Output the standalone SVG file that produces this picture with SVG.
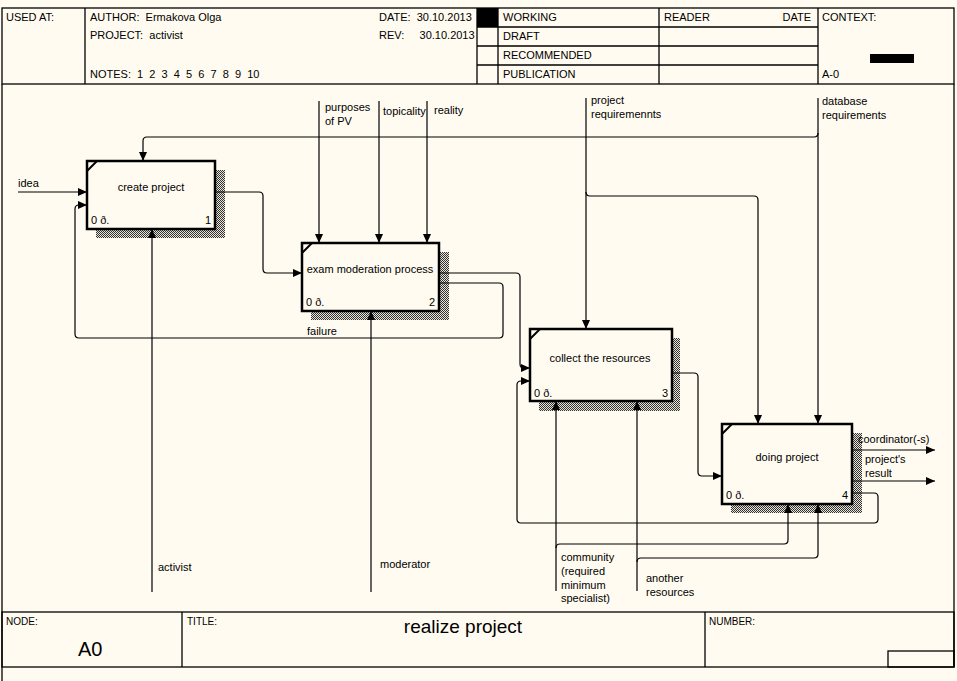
<svg xmlns="http://www.w3.org/2000/svg" width="957" height="681" viewBox="0 0 957 681">
  <defs>
    <style>
      text { font-family: "Liberation Sans", Arial, sans-serif; font-size: 11px; fill: #000; white-space: pre; }
      .frame { fill: none; stroke: #000; stroke-width: 1.3; }
      .box { fill: #fffbf0; stroke: #000; stroke-width: 2.5; }
      .shadow { fill: url(#hatch); }
      .wire { fill: none; stroke: #000; stroke-width: 1.2; }
      .arr { marker-end: url(#head); }
      .mid { text-anchor: middle; }
      .end { text-anchor: end; }
      .small { font-size: 10px; }
    </style>
    <pattern id="hatch" width="2" height="2" patternUnits="userSpaceOnUse">
      <rect width="2" height="2" fill="#e8e4da"/>
      <rect x="0" y="0" width="1" height="1" fill="#333"/>
      <rect x="1" y="1" width="1" height="1" fill="#333"/>
    </pattern>
    <marker id="head" markerWidth="10" markerHeight="8" refX="9" refY="4" orient="auto" markerUnits="userSpaceOnUse">
      <path d="M0,0 L9,4 L0,8 Z" fill="#000"/>
    </marker>
  </defs>

  <rect width="957" height="681" fill="#fffbf0"/>

  <!-- header block -->
  <g id="header">
    <rect class="frame" x="2" y="8" width="952" height="76"/>
    <line class="frame" x1="85" y1="8" x2="85" y2="84"/>
    <line class="frame" x1="477" y1="8" x2="477" y2="84"/>
    <line class="frame" x1="498" y1="8" x2="498" y2="84"/>
    <line class="frame" x1="659" y1="8" x2="659" y2="84"/>
    <line class="frame" x1="818" y1="8" x2="818" y2="84"/>
    <line class="frame" x1="477" y1="27" x2="818" y2="27"/>
    <line class="frame" x1="477" y1="46" x2="818" y2="46"/>
    <line class="frame" x1="477" y1="65" x2="818" y2="65"/>
    <rect x="477" y="8" width="21" height="19" fill="#000"/>
    <rect x="870" y="54" width="44" height="9" fill="#000"/>
    <text x="6" y="21">USED AT:</text>
    <text x="90" y="21">AUTHOR:  Ermakova Olga</text>
    <text x="90" y="39">PROJECT:  activist</text>
    <text x="90" y="78">NOTES:  1  2  3  4  5  6  7  8  9  10</text>
    <text x="379" y="21">DATE:  30.10.2013</text>
    <text x="379" y="39">REV:     30.10.2013</text>
    <text x="503" y="21">WORKING</text>
    <text x="503" y="40">DRAFT</text>
    <text x="503" y="59">RECOMMENDED</text>
    <text x="503" y="78">PUBLICATION</text>
    <text x="664" y="21">READER</text>
    <text class="end" x="811" y="21">DATE</text>
    <text x="822" y="21">CONTEXT:</text>
    <text x="822" y="78">A-0</text>
  </g>

  <!-- drawing area frame -->
  <line class="frame" x1="2" y1="84" x2="2" y2="681"/>
  <line class="frame" x1="954" y1="84" x2="954" y2="667"/>

  <!-- footer block -->
  <g id="footer">
    <rect class="frame" x="2" y="612" width="952" height="55"/>
    <line class="frame" x1="182" y1="612" x2="182" y2="667"/>
    <line class="frame" x1="705" y1="612" x2="705" y2="667"/>
    <rect class="frame" x="888" y="651" width="66" height="16"/>
    <text class="small" x="6" y="625">NODE:</text>
    <text x="78" y="656" style="font-size:20px">A0</text>
    <text class="small" x="187" y="625">TITLE:</text>
    <text class="mid" x="463" y="633" style="font-size:19px">realize project</text>
    <text class="small" x="709" y="625">NUMBER:</text>
  </g>

  <!-- activity boxes (drawn first so connector arrowheads sit on top of the shadows) -->
  <g id="node-1">
    <rect class="shadow" x="96" y="170" width="129" height="68"/>
    <rect class="box" x="87" y="161" width="128" height="68"/>
    <line x1="87" y1="171" x2="97" y2="161" stroke="#000" stroke-width="2"/>
    <text class="mid" x="151" y="191">create project</text>
    <text x="91" y="224">0 ð.</text>
    <text class="end" x="211" y="224">1</text>
  </g>

  <g id="node-2">
    <rect class="shadow" x="311" y="252" width="138" height="68"/>
    <rect class="box" x="302" y="243" width="137" height="68"/>
    <line x1="302" y1="253" x2="312" y2="243" stroke="#000" stroke-width="2"/>
    <text class="mid" x="370" y="273">exam moderation process</text>
    <text x="306" y="306">0 ð.</text>
    <text class="end" x="435" y="306">2</text>
  </g>

  <g id="node-3">
    <rect class="shadow" x="539" y="338" width="141" height="73"/>
    <rect class="box" x="530" y="329" width="142" height="72"/>
    <line x1="530" y1="339" x2="540" y2="329" stroke="#000" stroke-width="2"/>
    <text class="mid" x="600" y="362">collect the resources</text>
    <text x="534" y="397">0 ð.</text>
    <text class="end" x="668" y="397">3</text>
  </g>

  <g id="node-4">
    <rect class="shadow" x="731" y="433" width="131" height="80"/>
    <rect class="box" x="722" y="424" width="130" height="80"/>
    <line x1="722" y1="434" x2="732" y2="424" stroke="#000" stroke-width="2"/>
    <text class="mid" x="787" y="461">doing project</text>
    <text x="726" y="499">0 ð.</text>
    <text class="end" x="848" y="499">4</text>
  </g>

  <!-- connectors -->
  <g id="connectors">
    <!-- idea -->
    <path class="wire arr" d="M18,192 H87"/>
    <text x="18" y="187">idea</text>

    <!-- create project -> exam moderation -->
    <path class="wire arr" d="M215,192 H259 Q263,192 263,196 V269 Q263,273 267,273 H302"/>

    <!-- failure feedback -->
    <path class="wire arr" d="M439,283 H499 Q503,283 503,287 V334 Q503,338 499,338 H79 Q75,338 75,334 V209 Q75,205 79,205 H87"/>
    <text x="307" y="335">failure</text>

    <!-- exam moderation -> collect resources -->
    <path class="wire arr" d="M439,273 H516 Q520,273 520,277 V364 Q520,368 524,368 H530"/>

    <!-- doing project feedback -> collect resources -->
    <path class="wire arr" d="M852,493 H874 Q878,493 878,497 V519 Q878,523 874,523 H521 Q517,523 517,519 V385 Q517,381 521,381 H530"/>

    <!-- collect resources -> doing project -->
    <path class="wire arr" d="M672,373 H694 Q698,373 698,377 V472 Q698,476 702,476 H722"/>

    <!-- outputs -->
    <path class="wire arr" d="M852,450 H935"/>
    <text x="858" y="443">coordinator(-s)</text>
    <path class="wire arr" d="M852,481 H935"/>
    <text x="865" y="463">project's</text>
    <text x="865" y="477">result</text>

    <!-- database requirements -->
    <path class="wire arr" d="M818,98 V424"/>
    <path class="wire arr" d="M818,133 Q818,137 814,137 H147 Q143,137 143,141 V161"/>
    <text x="822" y="105">database</text>
    <text x="822" y="119">requirements</text>

    <!-- project requirements -->
    <path class="wire arr" d="M586,98 V329"/>
    <path class="wire arr" d="M586,192 Q586,196 590,196 H754 Q758,196 758,200 V424"/>
    <text x="591" y="104">project</text>
    <text x="591" y="118">requiremennts</text>

    <!-- controls of exam moderation -->
    <path class="wire arr" d="M319,101 V243"/>
    <text x="325" y="111">purposes</text>
    <text x="325" y="125">of PV</text>
    <path class="wire arr" d="M379,101 V243"/>
    <text x="383" y="115">topicality</text>
    <path class="wire arr" d="M427,101 V243"/>
    <text x="434" y="114">reality</text>

    <!-- mechanisms -->
    <path class="wire arr" d="M152,592 V229"/>
    <text x="158" y="571">activist</text>
    <path class="wire arr" d="M371,592 V311"/>
    <text x="380" y="568">moderator</text>

    <path class="wire arr" d="M556,591 V401"/>
    <path class="wire arr" d="M556,548 Q556,544 560,544 H784 Q788,544 788,540 V504"/>
    <text x="561" y="561">community</text>
    <text x="561" y="575">(required</text>
    <text x="561" y="589">minimum</text>
    <text x="561" y="602">specialist)</text>

    <path class="wire arr" d="M637,591 V401"/>
    <path class="wire arr" d="M637,562 Q637,558 641,558 H814 Q818,558 818,554 V504"/>
    <text x="646" y="582">another</text>
    <text x="646" y="596">resources</text>
  </g>
</svg>
